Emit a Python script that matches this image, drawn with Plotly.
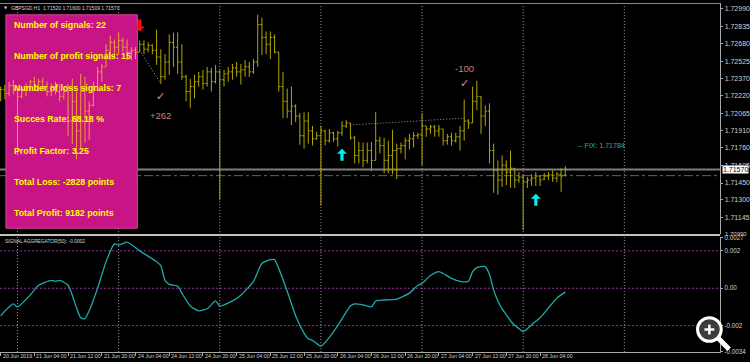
import plotly.graph_objects as go

W, H = 750, 362

# ---------------- data ----------------
bar_index = list(range(135))
opens = [1.72216,1.72276,1.72242,1.72311,1.72276,1.72216,1.72276,1.72303,1.72346,1.72311,
         1.72346,1.72303,1.72259,1.72294,1.72259,1.72216,1.72259,1.71998,1.72172,1.71911,
         1.72259,1.72085,1.72137,1.72303,1.72433,1.72477,1.72624,1.72694,1.72651,1.72711,
         1.72651,1.72607,1.72624,1.72607,1.72677,1.72633,1.72668,1.72624,1.72564,1.72390,
         1.72520,1.72694,1.72651,1.72520,1.72390,1.72259,1.72303,1.72346,1.72390,1.72329,
         1.72433,1.72346,1.72433,1.72363,1.72416,1.72433,1.72468,1.72433,1.72450,1.72477,
         1.72433,1.72520,1.72851,1.72738,1.72677,1.72738,1.72607,1.72303,1.72172,1.72085,
         1.72129,1.72042,1.71868,1.71998,1.71911,1.71841,1.71868,1.71911,1.71824,1.71894,
         1.71841,1.71894,1.71955,1.71981,1.71850,1.71694,1.71737,1.71650,1.71737,1.71650,
         1.71824,1.71781,1.71650,1.71694,1.71737,1.71754,1.71781,1.71824,1.71841,1.71868,
         1.71876,1.71955,1.71928,1.71946,1.71911,1.71928,1.71824,1.71859,1.71824,1.71859,
         1.71911,1.71998,1.71981,1.72172,1.72216,1.72042,1.72085,1.71737,1.71563,1.71476,
         1.71607,1.71546,1.71580,1.71476,1.71502,1.71459,1.71476,1.71493,1.71511,1.71485,
         1.71511,1.71520,1.71493,1.71528,1.71520]
highs = [1.72303,1.72320,1.72346,1.72363,1.72294,1.72303,1.72329,1.72363,1.72390,1.72372,
         1.72381,1.72346,1.72329,1.72346,1.72320,1.72303,1.72329,1.72372,1.72259,1.72416,
         1.72390,1.72172,1.72346,1.72477,1.72503,1.72677,1.72755,1.72720,1.72781,1.72738,
         1.72720,1.72651,1.72651,1.72711,1.72711,1.72694,1.72677,1.72807,1.72633,1.72590,
         1.72764,1.72781,1.72781,1.72677,1.72407,1.72372,1.72407,1.72433,1.72450,1.72477,
         1.72468,1.72494,1.72450,1.72450,1.72477,1.72503,1.72520,1.72503,1.72537,1.72520,
         1.72546,1.72938,1.72912,1.72790,1.72790,1.72764,1.72607,1.72433,1.72285,1.72303,
         1.72146,1.72068,1.72076,1.72076,1.71955,1.71902,1.71955,1.71920,1.71928,1.71902,
         1.71911,1.71998,1.72007,1.71981,1.71868,1.71815,1.71807,1.71807,1.71815,1.72076,
         1.71859,1.71850,1.71824,1.71920,1.71798,1.71807,1.71850,1.71885,1.71902,1.71894,
         1.72068,1.71955,1.71963,1.71963,1.71963,1.71928,1.71885,1.71894,1.71894,1.71955,
         1.72189,1.72015,1.72303,1.72355,1.72216,1.72137,1.72155,1.71798,1.71650,1.71694,
         1.71650,1.71737,1.71580,1.71546,1.71520,1.71502,1.71528,1.71546,1.71520,1.71537,
         1.71546,1.71563,1.71546,1.71580,1.71600]
lows = [1.72172,1.72189,1.72216,1.72233,1.71694,1.72198,1.72216,1.72259,1.72276,1.72259,
        1.72276,1.72216,1.72216,1.72233,1.72172,1.72189,1.71868,1.71798,1.71659,1.71754,
        1.71807,1.71833,1.72129,1.72303,1.72346,1.72477,1.72537,1.72564,1.72590,1.72607,
        1.72537,1.72537,1.72546,1.72607,1.72590,1.72607,1.72590,1.72494,1.72329,1.72363,
        1.72407,1.72477,1.72416,1.72363,1.72172,1.72111,1.72198,1.72303,1.72276,1.72303,
        1.72259,1.72329,1.71302,1.72303,1.72346,1.72363,1.72390,1.72320,1.72390,1.72390,
        1.72416,1.72477,1.72581,1.72590,1.72546,1.72598,1.72259,1.72024,1.72024,1.71963,
        1.71989,1.71789,1.71754,1.71798,1.71781,1.71833,1.71250,1.71781,1.71807,1.71815,
        1.71772,1.71868,1.71937,1.71833,1.71624,1.71624,1.71589,1.71624,1.71554,1.71650,
        1.71711,1.71537,1.71537,1.71528,1.71485,1.71711,1.71659,1.71746,1.71763,1.71841,
        1.71607,1.71859,1.71885,1.71859,1.71859,1.71781,1.71789,1.71781,1.71807,1.71737,
        1.71824,1.71928,1.71981,1.72094,1.71885,1.71955,1.71624,1.71363,1.71346,1.71415,
        1.71432,1.71406,1.71406,1.71450,1.71032,1.71406,1.71424,1.71424,1.71424,1.71476,
        1.71476,1.71459,1.71459,1.71372,1.71509]
closes = [1.72276,1.72242,1.72311,1.72276,1.72216,1.72276,1.72303,1.72346,1.72311,1.72346,
          1.72303,1.72259,1.72294,1.72259,1.72216,1.72259,1.71998,1.72172,1.71911,1.72259,
          1.72085,1.72137,1.72303,1.72433,1.72477,1.72624,1.72694,1.72651,1.72711,1.72651,
          1.72607,1.72624,1.72607,1.72677,1.72633,1.72668,1.72624,1.72564,1.72390,1.72520,
          1.72694,1.72651,1.72520,1.72390,1.72259,1.72303,1.72346,1.72390,1.72329,1.72433,
          1.72346,1.72433,1.72363,1.72416,1.72433,1.72468,1.72433,1.72450,1.72477,1.72433,
          1.72520,1.72851,1.72738,1.72677,1.72738,1.72607,1.72303,1.72172,1.72085,1.72129,
          1.72042,1.71868,1.71998,1.71911,1.71841,1.71868,1.71911,1.71824,1.71894,1.71841,
          1.71894,1.71955,1.71981,1.71850,1.71694,1.71737,1.71650,1.71737,1.71650,1.71824,
          1.71781,1.71650,1.71694,1.71737,1.71754,1.71781,1.71824,1.71841,1.71868,1.71876,
          1.71955,1.71928,1.71946,1.71911,1.71928,1.71824,1.71859,1.71824,1.71859,1.71911,
          1.71998,1.71981,1.72172,1.72216,1.72042,1.72085,1.71737,1.71563,1.71476,1.71607,
          1.71546,1.71580,1.71476,1.71502,1.71459,1.71476,1.71493,1.71511,1.71476,1.71511,
          1.71520,1.71493,1.71528,1.71511,1.71570]

ind_index = [0,3,4,7,9,12,13,14,16,18,19,20,21,23,25,27,28,30,33,37,38,39,40,42,43,45,47,49,
             51,52,55,57,60,62,64,65,66,68,70,72,73,74,76,78,80,83,84,86,88,89,91,94,97,99,
             100,102,104,105,107,109,111,112,113,115,116,117,118,119,120,121,122,123,124,125,
             126,128,130,132,134]
ind_values = [-0.00147,-0.00084,-0.00100,-0.00037,0.00016,0.00042,0.00037,0.00042,0.00016,
              -0.00105,-0.00158,-0.00163,-0.00121,0.0,0.00142,0.00237,0.00231,0.00247,0.00200,
              0.00142,0.00121,0.00042,0.00021,0.00011,-0.00026,-0.00095,-0.00121,-0.00110,
              -0.00068,-0.00095,-0.00068,-0.00037,0.00037,0.00132,0.00153,0.00153,0.00105,
              -0.00016,-0.00147,-0.00240,-0.00270,-0.00279,-0.00310,-0.00263,-0.00200,-0.00095,
              -0.00084,-0.00089,-0.00100,-0.00068,-0.00063,-0.00058,-0.00026,0.00016,0.00026,
              0.00068,0.00089,0.00079,0.00053,0.00037,0.00037,0.00089,0.00110,0.00116,0.00074,
              -0.00010,-0.00068,-0.00110,-0.00142,-0.00174,-0.00200,-0.00216,-0.00232,-0.00216,
              -0.00195,-0.00158,-0.00105,-0.00053,-0.00021]

time_tick_index = [0,8,16,24,32,40,48,56,64,72,80,88,96,104,112,120,128]
time_tick_labels = ["20 Jun 2019","21 Jun 04:00","21 Jun 12:00","21 Jun 20:00","24 Jun 04:00",
                    "24 Jun 12:00","24 Jun 20:00","25 Jun 04:00","25 Jun 12:00","25 Jun 20:00",
                    "26 Jun 04:00","26 Jun 12:00","26 Jun 20:00","27 Jun 04:00","27 Jun 12:00",
                    "27 Jun 20:00","28 Jun 04:00"]
day_start_index = [4,28,52,76,100,124,148]

price_ticks = [1.72990,1.72835,1.72680,1.72525,1.72370,1.72220,1.72065,1.71910,1.71760,
               1.71605,1.71450,1.71300,1.71145]
ind_ticks = [0.0027,0.002,0.0,-0.002,-0.0034]
ind_tick_labels = ["0.0027","0.002","0.00","-0.002","-0.0034"]
ind_levels = [0.002,0.0,-0.002]

bid_price = 1.71570
level_price = 1.71515
fix_price = 1.71784

stats_lines = ["Number of signals: 22","Number of profit signals: 15","Number of loss signals: 7",
               "Succes Rate: 68.18 %","Profit Factor: 3.25","Total Loss: -2828 points",
               "Total Profit: 9182 points"]

sell_arrows = [(33, 1.72790)]
buy_arrows = [(81, 1.71754), (127, 1.71354)]
trade_lines = [((33, 1.72624), (38, 1.72329)), ((83, 1.71963), (110, 1.72024))]
results = [(38, 1.72216, 1.72050, "+262"), (110, 1.72329, 1.72459, "-100")]

# ---------------- style ----------------
OLIVE = "#B0A600"
ORANGE = "#EE9E3C"
SANS = "Liberation Sans, Arial, sans-serif"
AX = "#A8A8A8"
XMAX = 729 / W

def ppx(v):
    return v / W

def ppy(v):
    return 1 - v / H

fig = go.Figure()

inside = [i for i in bar_index if 2 <= i <= 32]
outside = [i for i in bar_index if not (2 <= i <= 32)]
for idx, col in ((outside, OLIVE), (inside, ORANGE)):
    fig.add_trace(go.Ohlc(
        x=idx, open=[opens[i] for i in idx], high=[highs[i] for i in idx],
        low=[lows[i] for i in idx], close=[closes[i] for i in idx],
        increasing=dict(line=dict(color=col, width=1)),
        decreasing=dict(line=dict(color=col, width=1)),
        tickwidth=0.4, hoverinfo="skip", xaxis="x", yaxis="y"))

fig.add_trace(go.Scatter(x=ind_index, y=ind_values, mode="lines", xaxis="x", yaxis="y2",
                         line=dict(color="#1FA9A9", width=1.3, shape="spline", smoothing=0.6),
                         hoverinfo="skip"))

for (x0, y0), (x1, y1) in trade_lines:
    fig.add_trace(go.Scatter(x=[x0, x1], y=[y0, y1], mode="lines", xaxis="x", yaxis="y",
                             line=dict(color="#9A9A9A", width=1, dash="1px,2px"), hoverinfo="skip"))

shapes = []
for d in day_start_index:
    shapes.append(dict(type="line", xref="x", yref="paper", x0=d, x1=d, y0=ppy(355), y1=1,
                       line=dict(color="#A0A0A0", width=1, dash="1px,2px"), layer="below"))
shapes.append(dict(type="line", xref="paper", yref="y", x0=0, x1=XMAX, y0=bid_price, y1=bid_price,
                   line=dict(color="#7E7E7E", width=2), layer="below"))
shapes.append(dict(type="line", xref="paper", yref="y", x0=0, x1=XMAX, y0=level_price, y1=level_price,
                   line=dict(color="#2E8B2E", width=1, dash="dashdot"), layer="below"))
shapes.append(dict(type="rect", xref="paper", yref="paper", x0=ppx(6), x1=ppx(139), y0=ppy(229), y1=ppy(12),
                   fillcolor="#C71585", line=dict(color="#DC3FA0", width=1), layer="below"))
for lv in ind_levels:
    shapes.append(dict(type="line", xref="paper", yref="y2", x0=0, x1=XMAX, y0=lv, y1=lv,
                       line=dict(color="#9A2FA0", width=1, dash="2px,2px"), layer="below"))
# panel separator and top border
shapes.append(dict(type="line", xref="paper", yref="paper", x0=0, x1=XMAX, y0=ppy(236), y1=ppy(236),
                   line=dict(color="#C0C0C0", width=2)))
shapes.append(dict(type="line", xref="paper", yref="paper", x0=0, x1=XMAX, y0=ppy(0.5), y1=ppy(0.5),
                   line=dict(color="#8A8A8A", width=1)))
# signal arrows (pixel sized)
arrow_down = "M0,0 L5,5 L1.6,5 L1.6,12 L-1.6,12 L-1.6,5 L-5,5 Z"
arrow_up = "M0,0 L5,-5 L1.6,-5 L1.6,-12 L-1.6,-12 L-1.6,-5 L-5,-5 Z"
for x, y in sell_arrows:
    shapes.append(dict(type="path", xref="x", yref="y", xsizemode="pixel", ysizemode="pixel",
                       xanchor=x, yanchor=y, path=arrow_down, fillcolor="#FF1010",
                       line=dict(width=0)))
for x, y in buy_arrows:
    shapes.append(dict(type="path", xref="x", yref="y", xsizemode="pixel", ysizemode="pixel",
                       xanchor=x, yanchor=y, path=arrow_up, fillcolor="#00F0F0",
                       line=dict(width=0)))
# magnifier icon
shapes.append(dict(type="circle", xref="paper", yref="paper", x0=ppx(706), x1=ppx(730),
                   y0=ppy(344), y1=ppy(320), fillcolor="rgba(70,70,70,0.85)",
                   line=dict(color="white", width=3)))
shapes.append(dict(type="line", xref="paper", yref="paper", x0=ppx(727), x1=ppx(738),
                   y0=ppy(341), y1=ppy(352), line=dict(color="white", width=5)))
shapes.append(dict(type="line", xref="paper", yref="paper", x0=ppx(713), x1=ppx(723),
                   y0=ppy(332), y1=ppy(332), line=dict(color="white", width=2.5)))
shapes.append(dict(type="line", xref="paper", yref="paper", x0=ppx(718), x1=ppx(718),
                   y0=ppy(327), y1=ppy(337), line=dict(color="white", width=2.5)))

ann = []
for k, t in enumerate(stats_lines):
    ann.append(dict(xref="paper", yref="paper", x=ppx(12), y=ppy(22 + 32 * k), text=t,
                    showarrow=False, xanchor="left", yanchor="middle",
                    font=dict(family=SANS, size=8.8, color="#FFFF00", weight="bold")))
for x, ycheck, ytext, t in results:
    ann.append(dict(xref="x", yref="y", x=x, y=ycheck, text="✓", showarrow=False,
                    font=dict(family="DejaVu Sans", size=11, color="#F08A8A")))
    ann.append(dict(xref="x", yref="y", x=x, y=ytext, text=t, showarrow=False,
                    font=dict(family=SANS, size=9.5, color="#C98080")))
ann.append(dict(xref="paper", yref="y", x=ppx(583), y=fix_price, text="-- FIX: 1.71784",
                showarrow=False, xanchor="left", yanchor="middle",
                font=dict(family=SANS, size=7, color="#2AAFAF")))
# header
ann.append(dict(xref="paper", yref="paper", x=ppx(2), y=ppy(5), text="▼", showarrow=False,
                xanchor="left", yanchor="middle", font=dict(family="DejaVu Sans", size=4, color="#D0D0D0")))
ann.append(dict(xref="paper", yref="paper", x=ppx(9), y=ppy(5),
                text="GBPSGD,H1  1.71520 1.71600 1.71509 1.71570", showarrow=False,
                xanchor="left", yanchor="middle", font=dict(family=SANS, size=5, color="#D8D8D8")))
ann.append(dict(xref="paper", yref="paper", x=ppx(3), y=ppy(243),
                text="SIGNAL AGGREGATOR(50): -0.0002", showarrow=False,
                xanchor="left", yanchor="middle", font=dict(family=SANS, size=4.8, color="#D8D8D8")))
# time labels
for i, t in zip(time_tick_index, time_tick_labels):
    ann.append(dict(xref="x", yref="paper", x=i, y=ppy(358.5), text=t, showarrow=False,
                    xanchor="left", yanchor="middle", xshift=0,
                    font=dict(family=SANS, size=5.3, color="#D0D0D0")))
# current price box and bottom price label
ann.append(dict(xref="paper", yref="y", x=ppx(731), y=bid_price, text="1.71570", showarrow=False,
                xanchor="left", yanchor="middle", bgcolor="white", borderpad=0,
                font=dict(family=SANS, size=7, color="black")))
ann.append(dict(xref="paper", yref="paper", x=ppx(732), y=ppy(234.5), text="1.70990", showarrow=False,
                xanchor="left", yanchor="middle", font=dict(family=SANS, size=6, color="#D0D0D0")))

axis_common = dict(showgrid=False, zeroline=False, showline=True, linecolor=AX, linewidth=1,
                   ticks="outside", ticklen=2, tickcolor=AX, fixedrange=True)

fig.update_layout(
    width=W, height=H, margin=dict(l=0, r=0, t=0, b=0),
    paper_bgcolor="black", plot_bgcolor="black", showlegend=False, hovermode=False,
    xaxis=dict(domain=[0, XMAX], range=[-0.16, 170.77], anchor="y2", tickvals=time_tick_index,
               showticklabels=False, rangeslider=dict(visible=False), ticklen=3,
               **{k: v for k, v in axis_common.items() if k != "ticklen"}),
    yaxis=dict(domain=[ppy(235), 1], range=[1.70998, 1.73042], side="right", anchor="x",
               tickvals=price_ticks, ticktext=[f"{v:.5f}" for v in price_ticks],
               tickfont=dict(family=SANS, size=7, color="#D0D0D0"), **axis_common),
    yaxis2=dict(domain=[ppy(355), ppy(238)], range=[-0.00342, 0.00274], side="right", anchor="x",
                tickvals=ind_ticks, ticktext=ind_tick_labels,
                tickfont=dict(family=SANS, size=6.3, color="#D0D0D0"), **axis_common),
    shapes=shapes, annotations=ann,
)

fig.write_html("out.html")
